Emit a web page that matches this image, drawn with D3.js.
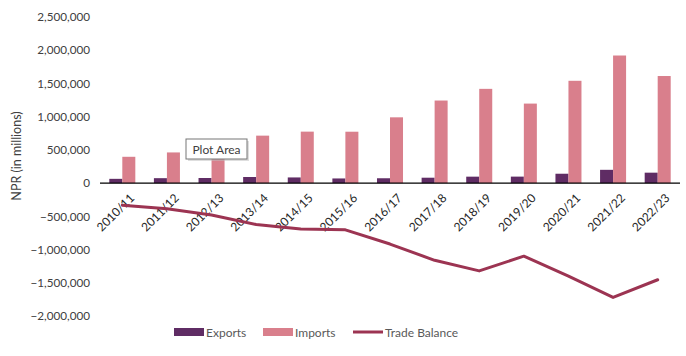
<!DOCTYPE html>
<html>
<head>
<meta charset="utf-8">
<script src="https://cdn.jsdelivr.net/npm/d3@7/dist/d3.min.js"></script>
<style>
  html, body { margin: 0; padding: 0; background: #fff; }
  svg { display: block; font-family: Lato, "Liberation Sans", sans-serif; }
</style>
</head>
<body>
<svg id="chart" width="686" height="356"></svg>
<script>
const categories = ["2010/11","2011/12","2012/13","2013/14","2014/15","2015/16","2016/17","2017/18","2018/19","2019/20","2020/21","2021/22","2022/23"];
const exportsData = [64338, 74261, 76917, 91991, 85319, 70117, 73049, 81360, 97114, 97709, 141124, 200031, 157140];
const importsData = [396175, 461667, 556740, 714365, 774684, 773599, 990113, 1242833, 1418535, 1196799, 1539837, 1920445, 1611728];
const balanceData = [-331837, -387406, -479823, -622374, -689365, -703482, -917064, -1161473, -1321421, -1099090, -1398713, -1720414, -1454588];
const yTicks = [-2000000, -1500000, -1000000, -500000, 0, 500000, 1000000, 1500000, 2000000, 2500000];
const seriesNames = ["Exports", "Imports", "Trade Balance"];
const colors = { Exports: "#5f2c64", Imports: "#d97f8c", "Trade Balance": "#9c3452" };

const svg = d3.select("#chart");

const x = d3.scaleBand().domain(categories).range([100, 680]).padding(0);
const x1 = d3.scaleBand().domain(["Exports", "Imports"]).range([0, x.bandwidth()]).paddingInner(0).paddingOuter(0.715);
const y = d3.scaleLinear().domain([-2000000, 2500000]).range([316, 17]);

// Y axis labels
const yAxis = d3.axisLeft(y).tickValues(yTicks).tickFormat(d3.format(",")).tickSize(0).tickPadding(0);
const gy = svg.append("g").attr("transform", "translate(90,0)").call(yAxis);
gy.select(".domain").remove();
gy.selectAll("text").attr("font-size", 11.7).attr("fill", "#404040").attr("font-family", "Lato, 'Liberation Sans', sans-serif");

// Y title
svg.append("text")
  .attr("transform", `translate(21,156) rotate(-90)`)
  .attr("text-anchor", "middle")
  .attr("font-size", 12.5)
  .attr("fill", "#404040")
  .text("NPR (in millions)");

// Bars
const rows = categories.map((c, i) => ({ cat: c, Exports: exportsData[i], Imports: importsData[i] }));
const groups = svg.append("g").selectAll("g").data(rows).join("g")
  .attr("transform", d => `translate(${x(d.cat)},0)`);
groups.selectAll("rect").data(d => ["Exports", "Imports"].map(k => ({ key: k, value: d[k] }))).join("rect")
  .attr("x", d => x1(d.key))
  .attr("width", x1.bandwidth())
  .attr("y", d => y(Math.max(0, d.value)))
  .attr("height", d => Math.abs(y(d.value) - y(0)))
  .attr("fill", d => colors[d.key]);

// X axis line at zero
const xAxis = d3.axisBottom(x).tickSize(0).tickPadding(0);
const gx = svg.append("g").attr("transform", `translate(0,${y(0)})`).call(xAxis);
gx.select(".domain").attr("stroke", "#000").attr("stroke-width", 1.3).attr("d", `M${x.range()[0]},0H${x.range()[1]}`);
gx.selectAll(".tick").attr("transform", d => `translate(${x(d)},0)`);
gx.selectAll("text")
  .attr("font-size", 12)
  .attr("fill", "#262626")
  .attr("font-family", "Lato, 'Liberation Sans', sans-serif")
  .attr("text-anchor", "end")
  .attr("dy", null)
  .attr("y", 0)
  .attr("x", 0)
  .attr("dominant-baseline", "hanging")
  .attr("transform", `translate(${x.bandwidth() / 2 + 6},9) rotate(-45)`);

// Trade balance line
const line = d3.line()
  .x((d, i) => x(categories[i]) + x.bandwidth() / 2)
  .y(d => y(d));
svg.append("path")
  .datum(balanceData)
  .attr("d", line)
  .attr("fill", "none")
  .attr("stroke", colors["Trade Balance"])
  .attr("stroke-width", 3)
  .attr("stroke-linejoin", "round")
  .attr("stroke-linecap", "round");

// "Plot Area" tooltip
const tip = svg.append("g").attr("transform", "translate(186,139)");
tip.append("rect").attr("x", 2).attr("y", 2).attr("width", 61).attr("height", 20).attr("fill", "#bdbdbd").attr("opacity", 0.5);
tip.append("rect").attr("x", 0).attr("y", 0).attr("width", 61).attr("height", 20).attr("fill", "#fff").attr("stroke", "#767676").attr("stroke-width", 1);
tip.append("text").attr("x", 30.5).attr("y", 14.5).attr("text-anchor", "middle").attr("font-size", 12).attr("fill", "#404040").text("Plot Area");

// Legend
const legendX = { Exports: 174, Imports: 263, "Trade Balance": 353 };
const lg = svg.append("g");
seriesNames.forEach(name => {
  const gx0 = legendX[name];
  if (name === "Trade Balance") {
    lg.append("line").attr("x1", gx0).attr("x2", gx0 + 30).attr("y1", 332).attr("y2", 332)
      .attr("stroke", colors[name]).attr("stroke-width", 3);
  } else {
    lg.append("rect").attr("x", gx0).attr("y", 328).attr("width", 30).attr("height", 8).attr("fill", colors[name]);
  }
  lg.append("text").attr("x", gx0 + 32).attr("y", 336.5).attr("font-size", 12).attr("fill", "#595959").text(name);
});
</script>
</body>
</html>
